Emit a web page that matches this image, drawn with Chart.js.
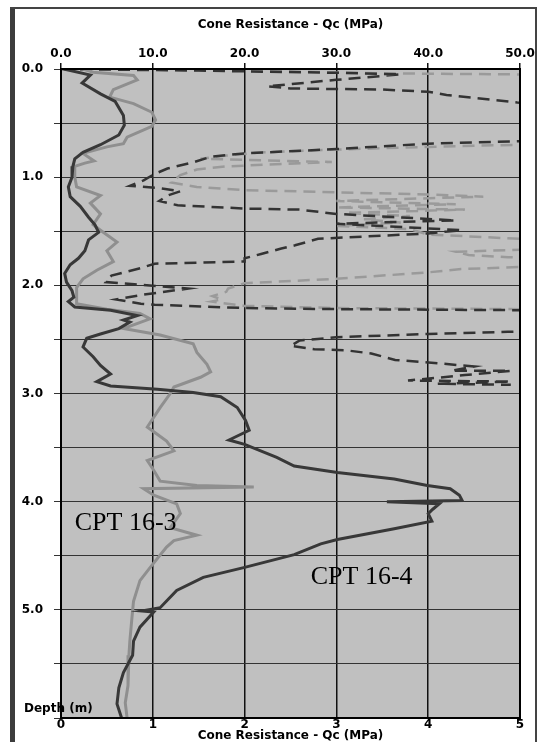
<!DOCTYPE html>
<html>
<head>
<meta charset="utf-8">
<script src="https://cdn.jsdelivr.net/npm/chart.js@4.4.1/dist/chart.umd.min.js"></script>
<style>
  body { margin: 0; background: #fff; }
  canvas { display: block; }
</style>
</head>
<body>
<canvas id="cptChart" width="539" height="742"></canvas>
<script>
// CPT 16-4 cone resistance (dark solid)
const cpt164Depth = [0, 0.056, 0.13, 0.23, 0.30, 0.43, 0.52, 0.61, 0.70, 0.77, 0.83, 0.90, 1.0, 1.09, 1.18, 1.27, 1.37, 1.44, 1.51, 1.58, 1.68, 1.75, 1.81, 1.89, 1.97, 2.05, 2.11, 2.15, 2.20, 2.23, 2.28, 2.32, 2.34, 2.40, 2.45, 2.49, 2.57, 2.66, 2.74, 2.82, 2.89, 2.93, 2.96, 2.99, 3.03, 3.13, 3.25, 3.34, 3.43, 3.47, 3.59, 3.67, 3.73, 3.79, 3.85, 3.88, 3.94, 3.99, 4.00, 4.02, 4.07, 4.11, 4.18, 4.25, 4.35, 4.39, 4.49, 4.61, 4.70, 4.82, 4.98, 5.01, 5.02, 5.16, 5.29, 5.42, 5.58, 5.72, 5.87, 6.0];
const cpt164Qc = [0.3, 3.2, 2.3, 4.3, 5.9, 6.8, 6.9, 6.3, 4.3, 2.4, 1.5, 1.3, 1.2, 0.8, 1.0, 2.1, 3.0, 3.7, 4.1, 3.0, 2.6, 1.9, 1.0, 0.4, 0.6, 1.2, 1.4, 0.8, 1.5, 5.4, 8.3, 6.8, 7.5, 6.3, 4.3, 2.8, 2.4, 3.5, 4.3, 5.4, 3.9, 5.4, 10.5, 14.4, 17.4, 19.2, 20.1, 20.5, 18.3, 20.0, 23.5, 25.4, 30.1, 36.3, 39.9, 42.4, 43.4, 43.7, 35.5, 41.2, 40.5, 40.0, 40.4, 36.3, 30.1, 28.3, 25.4, 19.9, 15.5, 12.6, 10.8, 8.8, 10.1, 8.6, 7.9, 7.8, 6.8, 6.3, 6.1, 6.6];

// CPT 16-3 cone resistance (light solid)
const cpt163Depth = [0, 0.03, 0.06, 0.10, 0.19, 0.26, 0.32, 0.40, 0.47, 0.53, 0.63, 0.69, 0.72, 0.78, 0.85, 0.87, 0.90, 1.0, 1.09, 1.17, 1.24, 1.34, 1.44, 1.49, 1.60, 1.68, 1.78, 1.86, 1.94, 2.02, 2.17, 2.22, 2.26, 2.31, 2.40, 2.46, 2.54, 2.62, 2.73, 2.80, 2.85, 2.94, 3.0, 3.13, 3.31, 3.44, 3.53, 3.62, 3.71, 3.81, 3.85, 3.865, 3.88, 3.94, 4.02, 4.11, 4.24, 4.31, 4.36, 4.42, 4.61, 4.73, 4.92, 5.10, 5.29, 5.42, 5.58, 5.70, 5.86, 6.0];
const cpt163Qc = [2.4, 3.5, 7.9, 8.3, 5.7, 5.3, 7.9, 9.9, 10.3, 9.9, 7.2, 6.8, 5.0, 2.4, 3.6, 2.6, 1.5, 1.5, 1.7, 4.3, 3.2, 4.3, 3.5, 4.3, 6.1, 5.0, 5.7, 3.9, 2.4, 1.7, 1.7, 5.0, 8.6, 9.7, 6.8, 10.8, 14.4, 14.8, 15.9, 16.3, 15.2, 12.3, 11.9, 10.8, 9.4, 11.5, 12.3, 9.4, 10.1, 10.8, 14.8, 21.0, 9.0, 10.1, 12.6, 13.0, 11.9, 14.8, 12.3, 11.5, 9.7, 8.6, 7.9, 7.7, 7.5, 7.4, 7.3, 7.3, 7.0, 7.2];

// dark dashed trace (values beyond 50 run off the chart)
const darkDashDepth = [0, 0.015, 0.035, 0.05, 0.10, 0.16, 0.18, 0.19, 0.21, 0.24, 0.31, 0.45, 0.60, 0.64, 0.67, 0.69, 0.74, 0.78, 0.81, 0.86, 0.92, 0.97, 1.03, 1.08, 1.10, 1.13, 1.17, 1.22, 1.26, 1.29, 1.30, 1.34, 1.40, 1.43, 1.49, 1.52, 1.57, 1.63, 1.66, 1.71, 1.75, 1.78, 1.80, 1.84, 1.91, 1.97, 1.99, 2.03, 2.09, 2.13, 2.17, 2.18, 2.21, 2.22, 2.23, 2.24, 2.40, 2.43, 2.45, 2.48, 2.51, 2.56, 2.59, 2.60, 2.63, 2.69, 2.72, 2.75, 2.79, 2.79, 2.83, 2.88, 2.89, 2.91, 2.92];
const darkDashVal = [0, 15, 30, 37, 30, 22.5, 25, 35, 40, 42, 49.7, 70, 70, 60, 49, 40, 30, 20, 16.4, 14.5, 11.6, 10.2, 9.0, 7.5, 10.5, 13.0, 11.6, 10.7, 12.7, 20, 26, 30, 43, 30, 43.6, 40, 28, 25.5, 24, 21.8, 20, 20, 10.2, 8.7, 5.5, 4.9, 8.0, 13.8, 8.7, 6.0, 8.7, 10.2, 20, 30, 50, 70, 70, 48.7, 40, 30, 26, 25, 27.6, 31, 33.8, 36.4, 41, 45, 42.5, 49, 44, 37.8, 49, 41, 49];

// light dashed trace
const lightDashDepth = [0, 0.015, 0.04, 0.05, 0.055, 0.60, 0.70, 0.72, 0.745, 0.77, 0.80, 0.83, 0.86, 0.90, 0.93, 0.98, 1.05, 1.09, 1.12, 1.14, 1.16, 1.18, 1.22, 1.25, 1.28, 1.30, 1.33, 1.36, 1.39, 1.42, 1.45, 1.48, 1.53, 1.57, 1.60, 1.64, 1.67, 1.69, 1.72, 1.74, 1.77, 1.81, 1.83, 1.85, 1.88, 1.94, 1.98, 2.03, 2.06, 2.10, 2.13, 2.15, 2.19, 2.21, 2.22, 2.23];
const lightDashVal = [0, 20, 35, 50, 70, 70, 50, 40, 30, 22, 18, 15.2, 29.5, 18, 14.8, 13, 12, 14.8, 20, 30, 40, 46, 30, 43, 30, 44, 31, 38, 33, 37, 30, 38, 40, 50, 70, 70, 50, 43, 44.4, 48.7, 60, 60, 50, 43.6, 40, 30, 20, 18.2, 18, 16.5, 17.5, 16.4, 20, 30, 50, 70];

// text labels placed in data units (qc, depth)
const curveLabels = [
  { text: 'CPT 16-3', qc: 1.5, depth: 4.2 },
  { text: 'CPT 16-4', qc: 27.2, depth: 4.7 }
];

function toPoints(vals, depths) {
  return vals.map((v, i) => ({ x: v, y: depths[i] }));
}

const tickFont = { family: 'DejaVu Sans', size: 12, weight: 'bold' };

const framePlugin = {
  id: 'frame',
  beforeDraw(chart) {
    const ctx = chart.ctx;
    const a = chart.chartArea;
    ctx.save();
    ctx.fillStyle = '#fff';
    ctx.fillRect(0, 0, chart.width, chart.height);
    ctx.fillStyle = '#c0c0c0';
    ctx.fillRect(a.left, a.top, a.right - a.left, a.bottom - a.top);
    // outer frame
    ctx.fillStyle = '#3c3c3c';
    ctx.fillRect(10, 7, 5, chart.height);
    ctx.strokeStyle = '#444';
    ctx.lineWidth = 2;
    ctx.beginPath();
    ctx.moveTo(10, 8);
    ctx.lineTo(536, 8);
    ctx.lineTo(536, chart.height);
    ctx.stroke();
    ctx.restore();
  },
  afterDatasetsDraw(chart) {
    const ctx = chart.ctx;
    const a = chart.chartArea;
    const xs = chart.scales.x;
    const ys = chart.scales.y;
    ctx.save();
    ctx.strokeStyle = '#000';
    ctx.lineWidth = 2;
    ctx.strokeRect(a.left, a.top, a.right - a.left, a.bottom - a.top);
    ctx.fillStyle = '#000';
    ctx.font = '26px "Liberation Serif"';
    ctx.textBaseline = 'middle';
    ctx.textAlign = 'left';
    curveLabels.forEach(l => {
      ctx.fillText(l.text, xs.getPixelForValue(l.qc), ys.getPixelForValue(l.depth));
    });
    ctx.font = 'bold 12px "DejaVu Sans"';
    ctx.fillText('Depth (m)', 24, 709);
    ctx.restore();
  }
};

const ctx = document.getElementById('cptChart').getContext('2d');

new Chart(ctx, {
  type: 'scatter',
  data: {
    datasets: [
      {
        label: 'CPT 16-4',
        data: toPoints(cpt164Qc, cpt164Depth),
        showLine: true,
        borderColor: '#383838',
        borderWidth: 3,
        pointRadius: 0
      },
      {
        label: 'CPT 16-3',
        data: toPoints(cpt163Qc, cpt163Depth),
        showLine: true,
        borderColor: '#8f8f8f',
        borderWidth: 3,
        pointRadius: 0
      },
      {
        label: 'CPT 16-4 dashed',
        data: toPoints(darkDashVal, darkDashDepth),
        showLine: true,
        borderColor: '#333',
        borderWidth: 2.5,
        borderDash: [12, 7],
        pointRadius: 0
      },
      {
        label: 'CPT 16-3 dashed',
        data: toPoints(lightDashVal, lightDashDepth),
        showLine: true,
        borderColor: '#9a9a9a',
        borderWidth: 2.5,
        borderDash: [12, 7],
        pointRadius: 0
      }
    ]
  },
  options: {
    responsive: false,
    animation: false,
    devicePixelRatio: 1,
    layout: { padding: { top: 0, left: 0, right: 19, bottom: 0 } },
    plugins: {
      legend: { display: false },
      tooltip: { enabled: false }
    },
    scales: {
      x: {
        type: 'linear',
        position: 'top',
        min: 0,
        max: 50,
        afterFit: s => { s.height = 69; },
        ticks: {
          stepSize: 10,
          maxRotation: 0,
          padding: 2,
          color: '#000',
          font: tickFont,
          callback: v => v.toFixed(1)
        },
        grid: { color: '#111', lineWidth: 1.5, tickLength: 6 },
        border: { color: '#000', width: 2 },
        title: {
          display: true,
          text: 'Cone Resistance - Qc (MPa)',
          color: '#000',
          font: tickFont,
          padding: { top: 18, bottom: 0 }
        }
      },
      x2: {
        type: 'linear',
        position: 'bottom',
        min: 0,
        max: 5,
        afterFit: s => { s.height = 24; },
        ticks: {
          stepSize: 1,
          maxRotation: 0,
          padding: 0,
          color: '#000',
          font: tickFont
        },
        grid: { display: false, drawTicks: false },
        border: { color: '#000', width: 2 },
        title: {
          display: true,
          text: 'Cone Resistance - Qc (MPa)',
          color: '#000',
          font: { family: 'DejaVu Sans', size: 12, weight: 'bold', lineHeight: 1.0 },
          padding: 0
        }
      },
      y: {
        type: 'linear',
        reverse: true,
        min: 0,
        max: 6,
        afterFit: s => { s.width = 61; },
        ticks: {
          stepSize: 0.5,
          autoSkip: false,
          padding: 11,
          color: '#000',
          font: tickFont,
          callback: v => (Number.isInteger(v) && v < 6) ? v.toFixed(1) : ''
        },
        grid: { color: '#333', lineWidth: 1, tickLength: 7 },
        border: { color: '#000', width: 2 }
      }
    }
  },
  plugins: [framePlugin]
});
</script>
</body>
</html>
